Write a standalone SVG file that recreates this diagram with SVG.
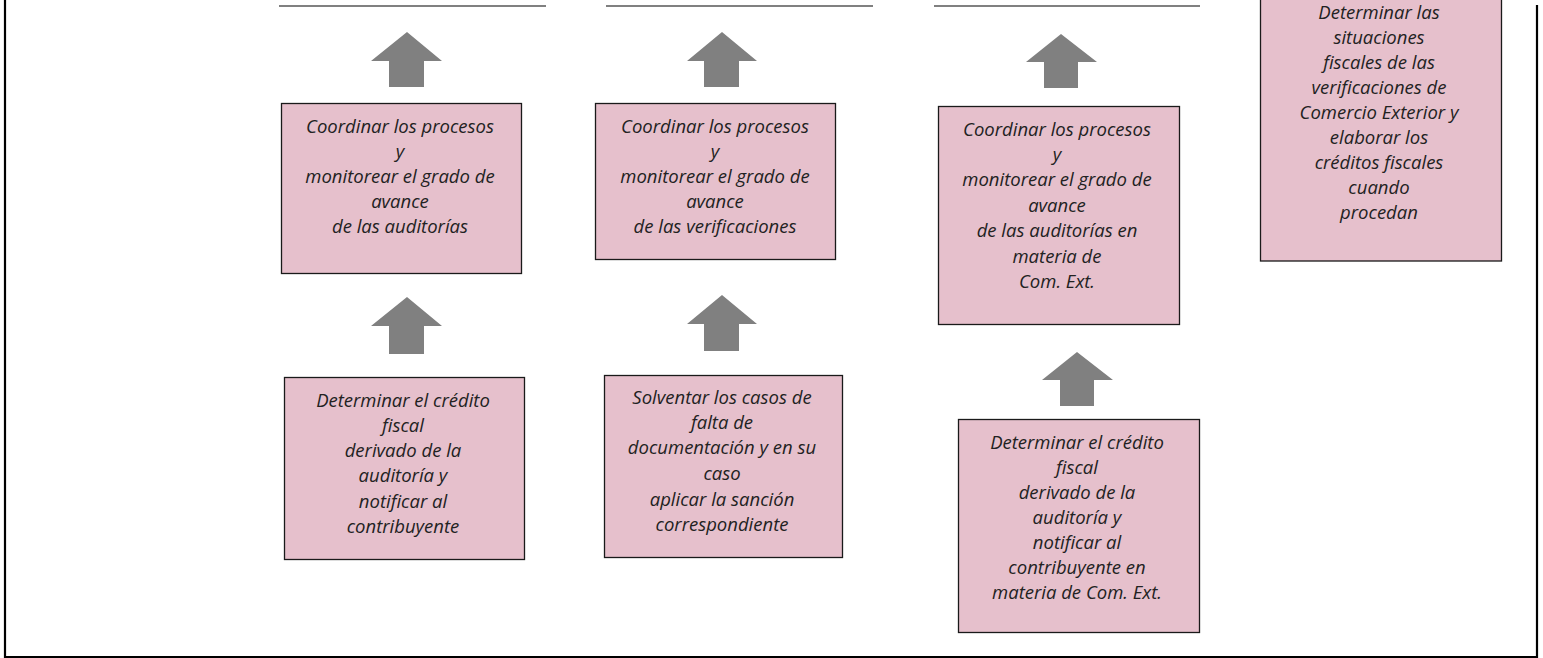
<svg xmlns="http://www.w3.org/2000/svg" width="1543" height="658" viewBox="0 0 1543 658">
<style>
.box{fill:#E6C0CC;stroke:#1a1a1a;stroke-width:1.3}
.t{font-family:"Open Sans","Liberation Sans",sans-serif;font-style:italic;font-size:18.5px;fill:#222;text-anchor:middle}
.arr{fill:#808080}
.hl{stroke:#808080;stroke-width:2.2}
.frame{stroke:#000;stroke-width:2.2;fill:none}
</style>
<rect width="1543" height="658" fill="#fff"/>
<g id="frame">
<path class="frame" d="M5,0 V657 H1537 V5"/>
<line class="hl" x1="279" y1="6" x2="546" y2="6"/>
<line class="hl" x1="606" y1="6" x2="873" y2="6"/>
<line class="hl" x1="934" y1="6" x2="1200" y2="6"/>
</g>
<g id="connectors">
<polygon class="arr" points="407,32 442,61 424,61 424,87 389,87 389,61 371,61"/>
<polygon class="arr" points="407,297 442,326 424,326 424,354 389,354 389,326 371,326"/>
<polygon class="arr" points="722,32 757,61 739,61 739,87 704,87 704,61 687,61"/>
<polygon class="arr" points="722,295 757,324 739,324 739,351 704,351 704,324 687,324"/>
<polygon class="arr" points="1061,34 1097,62 1078,62 1078,88 1044,88 1044,62 1026,62"/>
<polygon class="arr" points="1077,352 1113,380 1094,380 1094,406 1060,406 1060,380 1042,380"/>
</g>
<g id="n1">
<rect class="box" x="281.5" y="103.5" width="240" height="170"/>
<text class="t" x="400"><tspan y="133">Coordinar los procesos</tspan><tspan x="400" y="158">y</tspan><tspan x="400" y="183">monitorear el grado de</tspan><tspan x="400" y="208">avance</tspan><tspan x="400" y="233">de las auditorías</tspan></text>
</g>
<g id="n2">
<rect class="box" x="595.5" y="103.5" width="240" height="156"/>
<text class="t" x="715"><tspan y="133">Coordinar los procesos</tspan><tspan x="715" y="158">y</tspan><tspan x="715" y="183">monitorear el grado de</tspan><tspan x="715" y="208">avance</tspan><tspan x="715" y="233">de las verificaciones</tspan></text>
</g>
<g id="n3">
<rect class="box" x="284.5" y="377.5" width="240" height="182"/>
<text class="t" x="403"><tspan y="407">Determinar el crédito</tspan><tspan x="403" y="432">fiscal</tspan><tspan x="403" y="457">derivado de la</tspan><tspan x="403" y="482">auditoría y</tspan><tspan x="403" y="508">notificar al</tspan><tspan x="403" y="533">contribuyente</tspan></text>
</g>
<g id="n4">
<rect class="box" x="604.5" y="375.5" width="238" height="182"/>
<text class="t" x="722"><tspan y="404">Solventar los casos de</tspan><tspan x="722" y="429">falta de</tspan><tspan x="722" y="454">documentación y en su</tspan><tspan x="722" y="480">caso</tspan><tspan x="722" y="506">aplicar la sanción</tspan><tspan x="722" y="531">correspondiente</tspan></text>
</g>
<g id="n5">
<rect class="box" x="938.5" y="106.5" width="241" height="218"/>
<text class="t" x="1057"><tspan y="136">Coordinar los procesos</tspan><tspan x="1057" y="161">y</tspan><tspan x="1057" y="186">monitorear el grado de</tspan><tspan x="1057" y="212">avance</tspan><tspan x="1057" y="237">de las auditorías en</tspan><tspan x="1057" y="263">materia de</tspan><tspan x="1057" y="288">Com. Ext.</tspan></text>
</g>
<g id="n6">
<rect class="box" x="958.5" y="419.5" width="241" height="213"/>
<text class="t" x="1077"><tspan y="449">Determinar el crédito</tspan><tspan x="1077" y="474">fiscal</tspan><tspan x="1077" y="499">derivado de la</tspan><tspan x="1077" y="524">auditoría y</tspan><tspan x="1077" y="549">notificar al</tspan><tspan x="1077" y="574">contribuyente en</tspan><tspan x="1077" y="599">materia de Com. Ext.</tspan></text>
</g>
<g id="n7">
<rect class="box" x="1260.5" y="-10" width="241" height="271"/>
<text class="t" x="1379"><tspan y="19">Determinar las</tspan><tspan x="1379" y="44">situaciones</tspan><tspan x="1379" y="69">fiscales de las</tspan><tspan x="1379" y="94">verificaciones de</tspan><tspan x="1379" y="119">Comercio Exterior y</tspan><tspan x="1379" y="144">elaborar los</tspan><tspan x="1379" y="169">créditos fiscales</tspan><tspan x="1379" y="194">cuando</tspan><tspan x="1379" y="219">procedan</tspan></text>
</g>
</svg>
